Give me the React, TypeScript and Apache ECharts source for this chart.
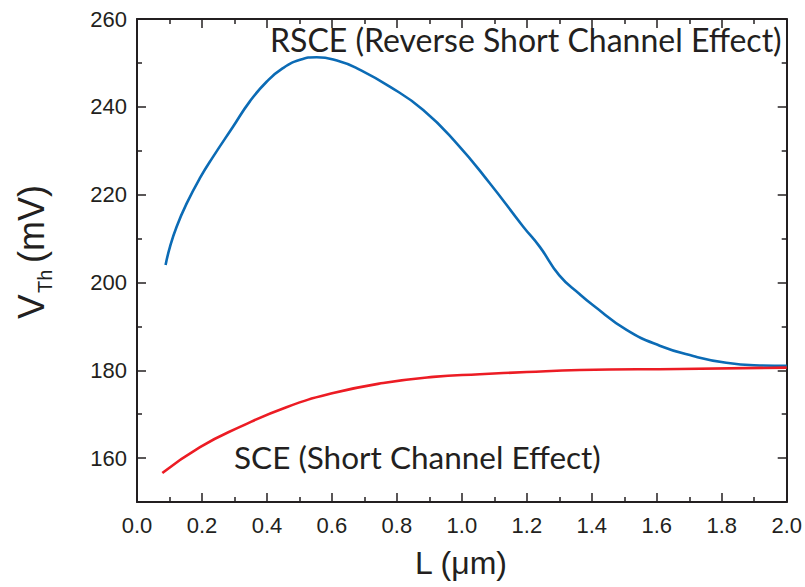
import React, { useEffect, useRef } from "react";
import * as echarts from "echarts";

const rsceL = [0.088, 0.1015, 0.122, 0.153, 0.194, 0.234, 0.295, 0.348, 0.399, 0.449, 0.502, 0.553, 0.625, 0.676, 0.778, 0.881, 0.984, 1.086, 1.189, 1.24, 1.3, 1.363, 1.404, 1.507, 1.609, 1.712, 1.814, 1.917, 2.0];
const rsceV = [204.0, 208.1, 212.7, 218.0, 223.8, 228.6, 235.4, 241.3, 245.7, 248.8, 250.7, 251.3, 250.3, 248.8, 244.6, 239.3, 231.7, 222.6, 212.7, 208.1, 201.6, 197.3, 194.8, 189.2, 185.6, 183.25, 181.7, 181.1, 181.0];
const sceL = [0.078, 0.194, 0.317, 0.46, 0.604, 0.758, 0.912, 1.055, 1.2, 1.363, 1.67, 2.0];
const sceV = [156.6, 162.5, 167.1, 171.6, 174.8, 177.1, 178.5, 179.1, 179.6, 180.05, 180.3, 180.6];
const yMajor = [160, 180, 200, 220, 240, 260];
const yMinor = [150, 170, 190, 210, 230, 250];

const AX = "#231f20";

export default function App() {
  const ref = useRef<HTMLDivElement>(null);
  useEffect(() => {
    const chart = echarts.init(ref.current!, null, { renderer: "svg" });
    const xBase = (pos: string, labels: boolean) => ({
      type: "value",
      position: pos,
      min: 0,
      max: 2,
      interval: 0.2,
      axisLine: { show: true, onZero: false, lineStyle: { color: AX, width: 2 } },
      axisTick: { show: true, inside: true, length: 9, lineStyle: { color: AX, width: 1.5 } },
      minorTick: { show: true, splitNumber: 2, length: 5, lineStyle: { color: AX, width: 1.5 } },
      axisLabel: {
        show: labels,
        margin: 12,
        fontSize: 22,
        color: AX,
        fontFamily: "Liberation Sans",
        formatter: (v: number) => v.toFixed(1),
      },
      splitLine: { show: false },
      minorSplitLine: { show: false },
    });
    const yBase = (pos: string, major: boolean, labels: boolean) => ({
      type: "value",
      position: pos,
      min: 150,
      max: 260,
      interval: 10,
      axisLine: { show: major, onZero: false, lineStyle: { color: AX, width: 2 } },
      axisTick: {
        show: true,
        inside: true,
        length: major ? 9 : 5,
        customValues: major ? yMajor : yMinor,
        lineStyle: { color: AX, width: 1.5 },
      },
      axisLabel: {
        show: labels,
        customValues: yMajor,
        margin: 10,
        fontSize: 22,
        color: AX,
        fontFamily: "Liberation Sans",
      },
      splitLine: { show: false },
    });
    chart.setOption({
      animation: false,
      backgroundColor: "#ffffff",
      grid: { left: 137, right: 18, top: 19, bottom: 85, containLabel: false },
      xAxis: [xBase("bottom", true), xBase("top", false)],
      yAxis: [
        yBase("left", true, true),
        yBase("left", false, false),
        yBase("right", true, false),
        yBase("right", false, false),
      ],
      series: [
        {
          type: "line",
          name: "RSCE",
          xAxisIndex: 0,
          yAxisIndex: 0,
          data: rsceL.map((x, i) => [x, rsceV[i]]),
          smooth: 0.5,
          showSymbol: false,
          lineStyle: { color: "#0b6bb5", width: 2.6 },
        },
        {
          type: "line",
          name: "SCE",
          xAxisIndex: 0,
          yAxisIndex: 0,
          data: sceL.map((x, i) => [x, sceV[i]]),
          smooth: 0.5,
          showSymbol: false,
          lineStyle: { color: "#ec1c24", width: 2.6 },
        },
      ],
      graphic: [
        {
          type: "text",
          x: 270,
          y: 39,
          style: {
            text: "RSCE (Reverse Short Channel Effect)",
            font: "32px Lato",
            fill: AX,
            textAlign: "left",
            textVerticalAlign: "middle",
          },
        },
        {
          type: "text",
          x: 234,
          y: 457,
          style: {
            text: "SCE (Short Channel Effect)",
            font: "31.5px Lato",
            fill: AX,
            textAlign: "left",
            textVerticalAlign: "middle",
          },
        },
        {
          type: "text",
          x: 461,
          y: 563,
          style: {
            text: "L (μm)",
            font: "32px 'Liberation Sans'",
            fill: AX,
            textAlign: "center",
            textVerticalAlign: "middle",
          },
        },
        {
          type: "text",
          x: 31,
          y: 319,
          rotation: Math.PI / 2,
          style: {
            text: "V",
            font: "37px 'Liberation Sans'",
            fill: AX,
            textAlign: "left",
            textVerticalAlign: "middle",
          },
        },
        {
          type: "text",
          x: 45,
          y: 293,
          rotation: Math.PI / 2,
          style: {
            text: "Th",
            font: "20px 'Liberation Sans'",
            fill: AX,
            textAlign: "left",
            textVerticalAlign: "middle",
          },
        },
        {
          type: "text",
          x: 31,
          y: 263,
          rotation: Math.PI / 2,
          style: {
            text: "(mV)",
            font: "36px 'Liberation Sans'",
            fill: AX,
            textAlign: "left",
            textVerticalAlign: "middle",
          },
        },
      ],
    });
    return () => chart.dispose();
  }, []);
  return (
    <div
      ref={ref}
      style={{ position: "fixed", left: 0, top: 0, width: 805, height: 587 }}
    />
  );
}
